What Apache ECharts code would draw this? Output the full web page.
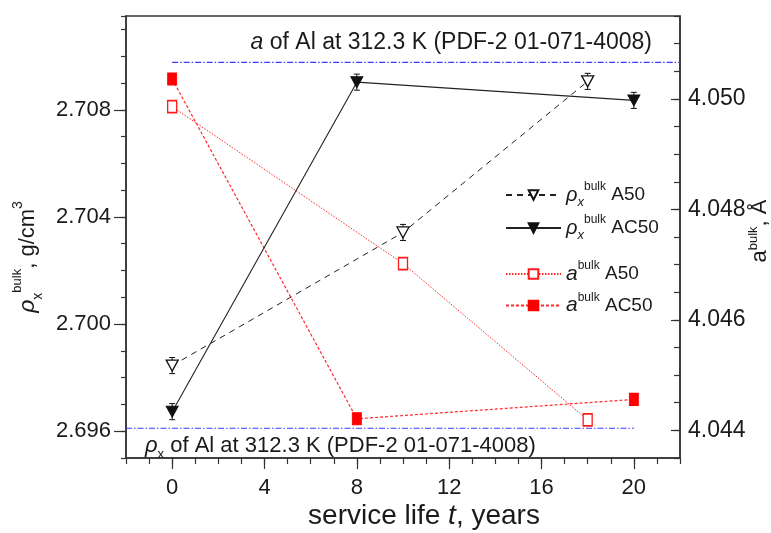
<!DOCTYPE html>
<html>
<head>
<meta charset="utf-8">
<script src="https://cdn.jsdelivr.net/npm/echarts@6/dist/echarts.min.js"></script>
<style>html,body{margin:0;padding:0;background:#fff;}#c{width:771px;height:533px;}</style>
</head>
<body>
<div id="c"></div>
<script>
// ---- data ----
const tRhoA50 = [0, 10, 18];
const rhoA50 = [2.69845, 2.70342, 2.70906];
const tRhoAC50 = [0, 8, 20];
const rhoAC50 = [2.69673, 2.70903, 2.70835];
const tA50 = [0, 10, 18];
const aA50 = [4.04986, 4.04702, 4.04419];
const tAC50 = [0, 8, 20];
const aAC50 = [4.05036, 4.04421, 4.04456];
const rhoErr = 0.0003;
const refA = 4.05066;      // a of Al at 312.3 K
const refRho = 2.69611;    // rho_x of Al at 312.3 K
const refAT = [0, 22];
const refRhoT = [-2, 20];
const xTicks = [0, 4, 8, 12, 16, 20];
const leftTicks = [2.696, 2.700, 2.704, 2.708];
const rightTicks = [4.044, 4.046, 4.048, 4.050];

const FONT = '"Liberation Sans", Arial, sans-serif';
const TXT = '#1a1a1a';
const AX = '#333';

function zip(a, b) { return a.map((v, i) => [v, b[i]]); }
function zipErr(a, b, e) { return a.map((v, i) => [v, b[i], e]); }

const chart = echarts.init(document.getElementById('c'));

const legendRich = {
  rho: {fontFamily: FONT, fontSize: 20, fontStyle: 'italic', color: TXT, lineHeight: 28},
  it: {fontFamily: FONT, fontSize: 21, fontStyle: 'italic', color: TXT, lineHeight: 28},
  sub: {fontFamily: FONT, fontSize: 13, fontStyle: 'italic', color: TXT, lineHeight: 13, verticalAlign: 'bottom'},
  sup: {fontFamily: FONT, fontSize: 12, color: TXT, lineHeight: 14, verticalAlign: 'top'},
  m: {fontFamily: FONT, fontSize: 19, color: TXT, lineHeight: 28}
};
const legendLabels = {
  rA50: '{rho|ρ}{sub|x}{sup|bulk}{m| A50}',
  rAC50: '{rho|ρ}{sub|x}{sup|bulk}{m| AC50}',
  aA50: '{it|a}{sup|bulk}{m| A50}',
  aAC50: '{it|a}{sup|bulk}{m| AC50}'
};

function errorRender(params, api) {
  const x = api.value(0), y = api.value(1), e = api.value(2);
  const top = api.coord([x, y + e]);
  const bot = api.coord([x, y - e]);
  const hw = 3;
  const st = {stroke: '#111', lineWidth: 1};
  return {type: 'group', children: [
    {type: 'line', shape: {x1: top[0], y1: top[1], x2: bot[0], y2: bot[1]}, style: st},
    {type: 'line', shape: {x1: top[0] - hw, y1: top[1], x2: top[0] + hw, y2: top[1]}, style: st},
    {type: 'line', shape: {x1: bot[0] - hw, y1: bot[1], x2: bot[0] + hw, y2: bot[1]}, style: st}
  ]};
}

const option = {
  animation: false,
  backgroundColor: '#fff',
  grid: {left: 126, right: 91, top: 16, bottom: 75, outerBoundsMode: 'none', containLabel: false,
    show: true, borderColor: AX, borderWidth: 1.5, backgroundColor: 'transparent'},
  xAxis: [
    {
      type: 'value', min: -2, max: 22, position: 'bottom',
      name: '{m0|service life }{i|t}{m|, years}',
      nameLocation: 'middle', nameGap: 44, nameMoveOverlap: false,
      nameTextStyle: {rich: {
        m0: {fontFamily: FONT, fontSize: 28, color: TXT, padding: [0, 0, 0, 42]},
        m: {fontFamily: FONT, fontSize: 28, color: TXT},
        i: {fontFamily: FONT, fontSize: 28, fontStyle: 'italic', color: TXT}
      }},
      axisLine: {show: true, onZero: false, lineStyle: {color: AX, width: 1.5}},
      axisTick: {show: true, length: 11, customValues: xTicks, lineStyle: {color: AX, width: 1.2}},
      axisLabel: {customValues: xTicks, margin: 19, fontFamily: FONT, fontSize: 22, color: TXT},
      splitLine: {show: false}
    },
    {
      type: 'value', min: -2, max: 22, interval: 1, position: 'bottom',
      axisLine: {show: false, onZero: false},
      axisTick: {show: true, length: 6, lineStyle: {color: AX, width: 1.2}},
      axisLabel: {show: false},
      splitLine: {show: false}
    }
  ],
  yAxis: [
    {
      type: 'value', min: 2.695, max: 2.7115, position: 'left',
      name: '{rho|ρ}{sub|x}{sup|bulk}{m|, g/cm}{sup2|3}',
      nameLocation: 'middle', nameRotate: 90, nameGap: 72,
      nameTextStyle: {rich: {
        rho: {fontFamily: FONT, fontSize: 23, fontStyle: 'italic', color: TXT, lineHeight: 34},
        sub: {fontFamily: FONT, fontSize: 14, color: TXT, lineHeight: 14, verticalAlign: 'bottom'},
        sup: {fontFamily: FONT, fontSize: 13, color: TXT, lineHeight: 14, verticalAlign: 'top'},
        m: {fontFamily: FONT, fontSize: 22, color: TXT, lineHeight: 34},
        sup2: {fontFamily: FONT, fontSize: 14, color: TXT, lineHeight: 14, verticalAlign: 'top', padding: [0, 40, 0, 0]}
      }},
      axisLine: {show: true, onZero: false, lineStyle: {color: AX, width: 1.5}},
      axisTick: {show: true, length: 12, customValues: leftTicks, lineStyle: {color: AX, width: 1.2}},
      axisLabel: {customValues: leftTicks, margin: 15, fontFamily: FONT, fontSize: 22, color: TXT,
        formatter: v => v.toFixed(3)},
      splitLine: {show: false}
    },
    {
      type: 'value', min: 4.0435, max: 4.0515, position: 'right',
      name: '{it|a}{sup|bulk}{m|, Å}',
      nameLocation: 'middle', nameRotate: 90, nameGap: 67, nameMoveOverlap: false,
      nameTextStyle: {rich: {
        it: {fontFamily: FONT, fontSize: 22, color: TXT, lineHeight: 26, padding: [0, 0, 0, 12]},
        sup: {fontFamily: FONT, fontSize: 13, color: TXT, lineHeight: 14, verticalAlign: 'top'},
        m: {fontFamily: FONT, fontSize: 22, color: TXT, lineHeight: 26}
      }},
      axisLine: {show: true, onZero: false, lineStyle: {color: AX, width: 1.5}},
      axisTick: {show: true, inside: true, length: 9, customValues: rightTicks, lineStyle: {color: AX, width: 1.2}},
      axisLabel: {customValues: rightTicks, margin: 8, fontFamily: FONT, fontSize: 23, color: TXT,
        formatter: v => v.toFixed(3)},
      splitLine: {show: false}
    },
    {
      type: 'value', min: 2.695, max: 2.7115, interval: 0.001, position: 'left',
      axisLine: {show: false, onZero: false},
      axisTick: {show: true, length: 5, lineStyle: {color: AX, width: 1.2}},
      axisLabel: {show: false},
      splitLine: {show: false}
    },
    {
      type: 'value', min: 4.0435, max: 4.0515, interval: 0.0005, position: 'right',
      axisLine: {show: false, onZero: false},
      axisTick: {show: true, inside: true, length: 6, lineStyle: {color: AX, width: 1.2}},
      axisLabel: {show: false},
      splitLine: {show: false}
    }
  ],
  legend: [
    {
      orient: 'vertical', left: 500, top: 176, itemWidth: 55, itemHeight: 12, itemGap: 5,
      data: ['rA50', 'rAC50'],
      formatter: n => legendLabels[n],
      textStyle: {rich: legendRich}
    },
    {
      orient: 'vertical', left: 500, top: 255, itemWidth: 55, itemHeight: 12, itemGap: 7,
      data: ['aA50', 'aAC50'],
      formatter: n => legendLabels[n],
      textStyle: {rich: legendRich}
    }
  ],
  graphic: [
    {
      type: 'text', x: 652, y: 43, z: 100,
      style: {
        text: '{i|a}{n| of Al at 312.3 K (PDF-2 01-071-4008)}',
        align: 'right', verticalAlign: 'middle',
        rich: {
          i: {fontFamily: FONT, fontSize: 23, fontStyle: 'italic', fill: TXT},
          n: {fontFamily: FONT, fontSize: 23, fill: TXT}
        }
      }
    },
    {
      type: 'text', x: 145, y: 446, z: 100,
      style: {
        text: '{i|ρ}{s|x}{n| of Al at 312.3 K (PDF-2 01-071-4008)}',
        align: 'left', verticalAlign: 'middle',
        rich: {
          i: {fontFamily: FONT, fontSize: 22, fontStyle: 'italic', fill: TXT, lineHeight: 30},
          s: {fontFamily: FONT, fontSize: 13, fill: TXT, lineHeight: 12, verticalAlign: 'bottom'},
          n: {fontFamily: FONT, fontSize: 22, fill: TXT, lineHeight: 30}
        }
      }
    }
  ],
  series: [
    {
      name: 'refA', type: 'line', xAxisIndex: 0, yAxisIndex: 1,
      data: refAT.map(t => [t, refA]), symbol: 'none', silent: true,
      lineStyle: {color: '#3a3aff', width: 1.2, type: [6, 2, 1.5, 2]}
    },
    {
      name: 'refRho', type: 'line', xAxisIndex: 0, yAxisIndex: 0,
      data: refRhoT.map(t => [t, refRho]), symbol: 'none', silent: true,
      lineStyle: {color: '#3a3aff', width: 1.2, type: [6, 2, 1.5, 2]}
    },
    {
      name: 'aA50', type: 'line', xAxisIndex: 0, yAxisIndex: 1,
      data: zip(tA50, aA50),
      symbol: 'rect', symbolSize: [9, 12],
      lineStyle: {color: '#ff2a2a', width: 1, type: [1.5, 1.5]},
      itemStyle: {color: '#fff', borderColor: '#ff1a1a', borderWidth: 1.5}
    },
    {
      name: 'aAC50', type: 'line', xAxisIndex: 0, yAxisIndex: 1,
      data: zip(tAC50, aAC50),
      symbol: 'rect', symbolSize: [9, 12],
      lineStyle: {color: '#ff2a2a', width: 1.2, type: [3, 2]},
      itemStyle: {color: '#ff0000', borderColor: '#ff0000', borderWidth: 1}
    },
    {
      name: 'errA50', type: 'custom', xAxisIndex: 0, yAxisIndex: 0, silent: true,
      renderItem: errorRender, data: zipErr(tRhoA50, rhoA50, rhoErr), z: 1
    },
    {
      name: 'errAC50', type: 'custom', xAxisIndex: 0, yAxisIndex: 0, silent: true,
      renderItem: errorRender, data: zipErr(tRhoAC50, rhoAC50, rhoErr), z: 1
    },
    {
      name: 'rA50', type: 'line', xAxisIndex: 0, yAxisIndex: 0,
      data: zip(tRhoA50, rhoA50),
      symbol: 'triangle', symbolRotate: 180, symbolSize: [12, 11],
      lineStyle: {color: '#222', width: 1, type: [6, 5]},
      itemStyle: {color: '#fff', borderColor: '#111', borderWidth: 1.3}
    },
    {
      name: 'rAC50', type: 'line', xAxisIndex: 0, yAxisIndex: 0,
      data: zip(tRhoAC50, rhoAC50),
      symbol: 'triangle', symbolRotate: 180, symbolSize: [12, 11],
      lineStyle: {color: '#222', width: 1.1, type: 'solid'},
      itemStyle: {color: '#111', borderColor: '#111', borderWidth: 1}
    }
  ]
};
chart.setOption(option);
</script>
</body>
</html>
